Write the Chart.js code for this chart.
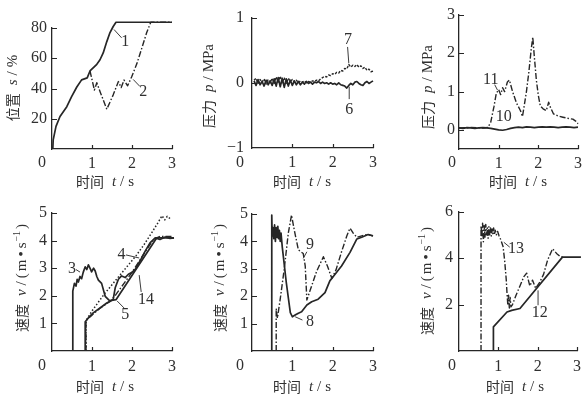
<!DOCTYPE html>
<html>
<head>
<meta charset="utf-8">
<script src="https://cdn.jsdelivr.net/npm/chart.js@4/dist/chart.umd.min.js"></script>
<style>
  html, body { margin: 0; padding: 0; background: #fff; }
  body { width: 587px; height: 396px; position: relative; overflow: hidden; }
  canvas { position: absolute; }
</style>
</head>
<body>
<canvas id="c1" width="190" height="196" style="left:0;top:0"></canvas>
<canvas id="c2" width="195" height="196" style="left:190px;top:0"></canvas>
<canvas id="c3" width="202" height="196" style="left:385px;top:0"></canvas>
<canvas id="c4" width="190" height="200" style="left:0;top:196px"></canvas>
<canvas id="c5" width="195" height="200" style="left:190px;top:196px"></canvas>
<canvas id="c6" width="202" height="200" style="left:385px;top:196px"></canvas>
<script>
// ---------- tick labels ----------
const timeTicks = [0, 1, 2, 3];
const posTicks = [20, 40, 60, 80];
const pressTicksA = [-1, 0, 1];
const pressTicksB = [0, 1, 2, 3];
const velTicksA = [1, 2, 3, 4, 5];
const velTicksB = [2, 4, 6];

// ---------- valve position s (%) ----------
const posTime1 = [0.02, 0.03, 0.10, 0.20, 0.37, 0.49, 0.62, 0.74, 0.88, 0.95, 1.12, 1.20, 1.28, 1.37, 1.45, 1.53, 1.60, 3.00];
const posCurve1 = [0, 6, 15, 21.5, 28, 34.6, 41, 45.7, 47, 51.6, 56, 59, 63.5, 71, 77, 81, 83.8, 83.8];
const posTime2 = [0.95, 1.06, 1.12, 1.20, 1.37, 1.53, 1.66, 1.73, 1.80, 1.89, 1.99, 2.12, 2.24, 2.37, 2.47, 3.00];
const posCurve2 = [51.6, 39, 43.8, 38, 26.3, 35.8, 44.6, 40.6, 45.6, 41.8, 47.6, 56.3, 66.2, 77.2, 83.8, 83.8];

// ---------- pressure p (MPa), curves 6 and 7 ----------
const pressTime = [0.05, 0.10, 0.15, 0.20, 0.25, 0.30, 0.35, 0.40, 0.45, 0.50,
                   0.55, 0.60, 0.65, 0.70, 0.75, 0.80, 0.85, 0.90, 0.95, 1.00,
                   1.05, 1.10, 1.15, 1.20, 1.25, 1.30, 1.35, 1.40, 1.45, 1.50,
                   1.55, 1.60, 1.65, 1.70, 1.75, 1.80, 1.85, 1.90, 1.95, 2.00,
                   2.05, 2.10, 2.15, 2.20, 2.25, 2.30, 2.35, 2.40, 2.45, 2.50,
                   2.55, 2.60, 2.65, 2.70, 2.75, 2.80, 2.85, 2.90, 2.95, 3.00];
const pressCurve6 = [0.03, -0.04, 0.05, -0.03, 0.02, -0.05, 0.04, -0.03, 0.03, -0.04,
                     0.06, -0.05, 0.08, -0.06, 0.07, -0.07, 0.06, -0.05, 0.04, -0.04,
                     0.03, -0.03, 0.02, -0.03, 0.01, -0.02, 0.02, -0.01, 0.01, -0.02,
                     0.01, 0.00, 0.02, -0.01, 0.01, -0.01, 0.00, -0.02, 0.00, -0.02,
                     -0.01, -0.03, 0.00, -0.03, -0.04, -0.05, -0.08, -0.04, -0.01, -0.03,
                     0.01, 0.02, -0.01, -0.03, -0.04, 0.00, 0.02, -0.01, 0.01, 0.03];
const pressCurve7 = [0.04, 0.07, -0.01, 0.05, 0.01, 0.06, -0.02, 0.05, 0.00, 0.07,
                     -0.01, 0.09, 0.01, 0.10, 0.00, 0.08, -0.01, 0.07, 0.02, 0.05,
                     0.01, 0.04, 0.00, 0.03, 0.01, 0.03, 0.00, 0.02, 0.01, 0.03,
                     0.02, 0.04, 0.03, 0.06, 0.08, 0.10, 0.09, 0.12, 0.11, 0.14,
                     0.13, 0.16, 0.15, 0.19, 0.18, 0.22, 0.21, 0.28, 0.24, 0.27,
                     0.25, 0.28, 0.24, 0.26, 0.22, 0.24, 0.19, 0.21, 0.17, 0.18];

// ---------- pressure p (MPa), curves 10 and 11 ----------
const pressTime10 = [0, 0.1, 0.2, 0.3, 0.4, 0.5, 0.6, 0.7, 0.8, 0.9, 1.0, 1.1, 1.2, 1.3, 1.4, 1.5,
                     1.6, 1.7, 1.8, 1.9, 2.0, 2.1, 2.2, 2.3, 2.4, 2.5, 2.6, 2.7, 2.8, 2.9, 3.0];
const pressCurve10 = [0.05, 0.04, 0.06, 0.05, 0.04, 0.05, 0.06, 0.05, 0.04, 0.02, 0.00, -0.01, 0.01, 0.04, 0.06, 0.07,
                      0.06, 0.08, 0.07, 0.06, 0.07, 0.08, 0.07, 0.08, 0.07, 0.06, 0.07, 0.08, 0.07, 0.06, 0.07];
const pressTime11 = [0, 0.3, 0.6, 0.73, 0.80, 0.88, 0.94, 1.00, 1.05, 1.10, 1.15, 1.22, 1.27, 1.35, 1.45, 1.55,
                     1.60, 1.64, 1.70, 1.76, 1.82, 1.86, 1.90, 1.95, 2.00, 2.05, 2.12, 2.20, 2.26, 2.30, 2.38,
                     2.50, 2.62, 2.75, 2.87, 2.95, 3.00];
const pressCurve11 = [0.05, 0.06, 0.05, 0.06, 0.20, 0.60, 0.95, 1.05, 0.92, 1.10, 1.00, 1.25, 1.30, 1.00, 0.70, 0.50,
                      0.35, 0.60, 1.00, 1.50, 2.10, 2.42, 1.90, 1.30, 0.90, 0.62, 0.55, 0.50, 0.72, 0.60, 0.42,
                      0.36, 0.33, 0.30, 0.28, 0.22, 0.16];

// ---------- velocity v (m/s), curves 3, 4, 5, 14 ----------
const velTime3 = [0.52, 0.52, 0.56, 0.60, 0.63, 0.66, 0.70, 0.74, 0.78, 0.83, 0.87, 0.91, 0.95, 0.99, 1.04, 1.08,
                  1.12, 1.16, 1.24, 1.33, 1.45, 1.53, 1.58, 1.66, 1.74, 1.83, 1.91, 1.99, 2.08, 2.20, 2.33,
                  2.45, 2.58, 2.70, 2.83, 2.95, 3.05];
const velCurve3 = [0, 2.17, 2.45, 2.35, 2.60, 2.50, 2.70, 2.62, 2.85, 3.05, 2.95, 3.12, 3.00, 2.87, 3.00, 2.90,
                   2.70, 2.57, 2.45, 1.98, 1.81, 1.87, 2.29, 2.60, 2.72, 2.66, 2.78, 2.84, 2.96, 3.26, 3.62,
                   3.92, 4.10, 4.04, 4.13, 4.08, 4.10];
const velTime4 = [0.85, 0.85, 1.00, 1.15, 1.30, 1.50, 1.70, 1.90, 2.10, 2.30, 2.50, 2.65, 2.75, 2.82, 2.88, 2.95];
const velCurve4 = [0, 1.10, 1.45, 1.75, 2.05, 2.40, 2.75, 3.10, 3.45, 3.85, 4.30, 4.65, 4.90, 4.75, 4.88, 4.80];
const velTime5 = [0.85, 0.85, 1.00, 1.20, 1.45, 1.60, 1.80, 2.00, 2.20, 2.40, 2.55, 2.70, 3.00];
const velCurve5 = [0, 1.10, 1.30, 1.55, 1.80, 2.05, 2.45, 2.85, 3.30, 3.75, 4.05, 4.15, 4.15];
const velTime14 = [0.83, 0.83, 0.91, 1.03, 1.20, 1.37, 1.49, 1.60, 2.62, 3.05];
const velCurve14 = [0, 1.06, 1.20, 1.38, 1.56, 1.74, 1.83, 1.86, 4.10, 4.10];

// ---------- velocity v (m/s), curves 8 and 9 ----------
const velTime8 = [0.49, 0.49, 0.50, 0.52, 0.54, 0.56, 0.58, 0.60, 0.62, 0.64, 0.66, 0.68, 0.70, 0.72, 0.75, 0.85,
                  0.95, 1.00, 1.08, 1.15, 1.23, 1.36, 1.48, 1.64, 1.81, 1.93, 2.06, 2.22, 2.43, 2.60, 2.72,
                  2.88, 3.00];
const velCurve8 = [0, 4.96, 4.20, 4.50, 4.10, 4.60, 4.00, 4.50, 4.15, 4.55, 4.10, 4.40, 4.00, 4.30, 3.80, 2.50,
                   1.40, 1.25, 1.32, 1.38, 1.43, 1.68, 1.80, 1.89, 2.13, 2.56, 2.80, 3.10, 3.60, 4.09, 4.15,
                   4.25, 4.20];
const velTime9 = [0.60, 0.60, 0.63, 0.70, 0.80, 0.90, 0.98, 1.05, 1.15, 1.27, 1.32, 1.36, 1.45, 1.60, 1.77, 1.87,
                  1.98, 2.08, 2.22, 2.35, 2.43, 2.51, 2.60, 2.72, 2.85, 3.00];
const velCurve9 = [0, 1.55, 1.20, 1.90, 3.00, 4.30, 4.96, 4.40, 3.69, 3.56, 3.10, 1.86, 2.25, 2.90, 3.44, 3.10,
                   2.65, 2.95, 3.62, 4.20, 4.48, 4.30, 4.15, 4.20, 4.25, 4.20];

// ---------- velocity v (m/s), curves 12 and 13 ----------
const velTime12 = [0.875, 0.875, 1.22, 1.34, 1.55, 2.63, 3.10];
const velCurve12 = [0, 1.04, 1.68, 1.75, 1.83, 4.04, 4.04];
const velTime13 = [0.56, 0.56, 0.58, 0.60, 0.62, 0.64, 0.66, 0.68, 0.70, 0.72, 0.74, 0.76, 0.78, 0.80, 0.82, 0.84,
                   0.86, 0.88, 0.90, 0.92, 0.95, 0.98, 1.02, 1.06, 1.12, 1.16, 1.20, 1.22, 1.24, 1.26, 1.28,
                   1.30, 1.32, 1.36, 1.45, 1.55, 1.65, 1.72, 1.80, 1.87, 1.95, 2.05, 2.15, 2.25, 2.38, 2.48,
                   2.58, 2.65];
const velCurve13 = [0, 5.40, 4.90, 5.50, 4.70, 5.40, 4.90, 5.45, 5.00, 5.30, 4.85, 5.35, 5.00, 5.30, 4.95, 5.25,
                    5.05, 5.30, 5.00, 5.20, 5.00, 5.15, 4.95, 4.80, 4.50, 3.90, 3.10, 2.50, 2.00, 2.40, 1.85,
                    2.30, 1.90, 2.00, 2.40, 2.80, 3.20, 3.35, 2.80, 3.05, 2.70, 2.95, 3.30, 3.90, 4.40, 4.20,
                    4.05, 4.05];

// ---------- drawing ----------
const INK = '#262626';
const TEXT = '#303030';
const SERIF = "'Liberation Serif', 'DejaVu Serif', serif";
const CJK = "'Noto Sans CJK SC', sans-serif";

const STROKES = {
  solid:   { borderDash: [], borderWidth: 1.7 },
  dashDot: { borderDash: [6, 2, 1.5, 2], borderWidth: 1.4 },
  dotted:  { borderDash: [1.5, 2], borderWidth: 1.5 },
  dashed:  { borderDash: [2.5, 1.5], borderWidth: 1.4 }
};

function curve(xs, ys, stroke) {
  return Object.assign({
    data: xs.map((x, i) => ({ x: x, y: ys[i] })),
    borderColor: INK,
    pointRadius: 0,
    tension: 0,
    fill: false,
    clip: false,
    borderJoinStyle: 'round'
  }, STROKES[stroke]);
}

const FONTS = {
  cjk: '14px ' + CJK,
  rm: '15px ' + SERIF,
  it: 'italic 15px ' + SERIF,
  sup: '10px ' + SERIF
};

const timeTitle = [{ t: '时间', f: 'cjk', gap: 8 }, { t: 't', f: 'it', gap: 4 }, { t: '/', f: 'rm', gap: 4 }, { t: 's', f: 'rm' }];
const posTitle = [{ t: '位置', f: 'cjk', gap: 8 }, { t: 's', f: 'it', gap: 4 }, { t: '/', f: 'rm', gap: 4 }, { t: '%', f: 'rm' }];
const pressTitle = [{ t: '压力', f: 'cjk', gap: 8 }, { t: 'p', f: 'it', gap: 4 }, { t: '/', f: 'rm', gap: 4 }, { t: 'MPa', f: 'rm' }];
const velTitle = [{ t: '速度', f: 'cjk', gap: 8 }, { t: 'v', f: 'it', gap: 4 }, { t: '/', f: 'rm', gap: 3 },
                  { t: '(', f: 'rm', gap: 2 }, { t: 'm', f: 'rm', gap: 3 }, { t: '•', f: 'rm', gap: 3 },
                  { t: 's', f: 'rm', gap: 1 }, { t: '−1', f: 'sup', gap: 2 }, { t: ')', f: 'rm' }];

function drawCaption(ctx, cap) {
  ctx.save();
  ctx.translate(cap.x, cap.y);
  if (cap.rotate) ctx.rotate(-Math.PI / 2);
  ctx.textAlign = 'left';
  ctx.textBaseline = 'middle';
  ctx.fillStyle = TEXT;
  let total = 0;
  const widths = cap.parts.map(p => {
    ctx.font = FONTS[p.f];
    const w = ctx.measureText(p.t).width;
    total += w + (p.gap || 0);
    return w;
  });
  let x = -total / 2;
  cap.parts.forEach((p, i) => {
    ctx.font = FONTS[p.f];
    ctx.fillText(p.t, x, p.f === 'sup' ? -5 : 0);
    x += widths[i] + (p.gap || 0);
  });
  ctx.restore();
}

// inward tick marks, curve numbers with leader lines, origin label and axis captions
const figureMarks = {
  id: 'figureMarks',
  afterDatasetsDraw(chart, args, opts) {
    const ctx = chart.ctx;
    const xs = chart.scales.x, ys = chart.scales.y;
    const area = chart.chartArea;
    ctx.save();
    ctx.strokeStyle = INK;
    ctx.lineWidth = 1.2;
    ctx.beginPath();
    xs.ticks.forEach(t => {
      if (t.value <= xs.min) return;
      const px = Math.round(xs.getPixelForValue(t.value)) + 0.5;
      ctx.moveTo(px, area.bottom);
      ctx.lineTo(px, area.bottom - 4);
    });
    ys.ticks.forEach(t => {
      if (t.value <= ys.min) return;
      const py = Math.round(ys.getPixelForValue(t.value)) + 0.5;
      ctx.moveTo(area.left, py);
      ctx.lineTo(area.left + 5, py);
    });
    ctx.stroke();

    ctx.lineWidth = 0.9;
    ctx.fillStyle = TEXT;
    ctx.font = '16px ' + SERIF;
    ctx.textAlign = 'center';
    ctx.textBaseline = 'middle';
    (opts.labels || []).forEach(l => {
      ctx.fillText(l.text, xs.getPixelForValue(l.at[0]), ys.getPixelForValue(l.at[1]));
      if (l.from) {
        ctx.beginPath();
        ctx.moveTo(xs.getPixelForValue(l.from[0]), ys.getPixelForValue(l.from[1]));
        ctx.lineTo(xs.getPixelForValue(l.to[0]), ys.getPixelForValue(l.to[1]));
        ctx.stroke();
      }
    });

    if (opts.origin) {
      ctx.font = '16px ' + SERIF;
      ctx.fillText('0', opts.origin[0], opts.origin[1]);
    }
    (opts.captions || []).forEach(c => drawCaption(ctx, c));
    ctx.restore();
  }
};

function panel(id, box, area, yRange, yTicks, yPad, xPad, datasets, marks) {
  new Chart(document.getElementById(id), {
    type: 'line',
    data: { datasets: datasets },
    options: {
      responsive: false,
      animation: false,
      devicePixelRatio: 1,
      events: [],
      layout: { padding: { left: 0, top: area.top - box.top, right: box.left + box.width - area.right, bottom: 0 } },
      plugins: { legend: { display: false }, tooltip: { enabled: false }, figureMarks: marks },
      scales: {
        x: {
          type: 'linear', min: 0, max: 3,
          afterFit: s => { s.height = box.top + box.height - area.bottom; },
          afterBuildTicks: s => { s.ticks = timeTicks.map(v => ({ value: v })); },
          ticks: {
            autoSkip: false, maxRotation: 0, padding: xPad, color: TEXT,
            font: { family: SERIF, size: 16 },
            callback: v => (v === 0 ? '' : String(v))
          },
          grid: { display: false, drawTicks: false },
          border: { display: true, color: INK, width: 1.3 }
        },
        y: {
          type: 'linear', min: yRange[0], max: yRange[1],
          afterFit: s => { s.width = area.left - box.left; },
          afterBuildTicks: s => { s.ticks = yTicks.map(v => ({ value: v })); },
          ticks: {
            autoSkip: false, padding: yPad, color: TEXT,
            font: { family: SERIF, size: 16 },
            callback: v => String(v).replace('-', '−')
          },
          grid: { display: false, drawTicks: false },
          border: { display: true, color: INK, width: 1.3 }
        }
      }
    },
    plugins: [figureMarks]
  });
}

// valve position
panel('c1', { left: 0, top: 0, width: 190, height: 196 }, { left: 52, right: 172, top: 28, bottom: 149 },
  [0, 80], posTicks, 5, 5,
  [curve(posTime1, posCurve1, 'solid'), curve(posTime2, posCurve2, 'dashDot')],
  {
    labels: [
      { text: '1', at: [1.83, 71], from: [1.55, 79], to: [1.74, 73.5] },
      { text: '2', at: [2.28, 38], from: [2.03, 46], to: [2.2, 41.3] }
    ],
    origin: [42, 163],
    captions: [
      { parts: timeTitle, x: 105, y: 182 },
      { parts: posTitle, x: 13, y: 88, rotate: true }
    ]
  });

// pressure, curves 6 and 7
panel('c2', { left: 190, top: 0, width: 195, height: 196 }, { left: 252, right: 373, top: 15, bottom: 148 },
  [-1, 1], pressTicksA, 8, 5,
  [curve(pressTime, pressCurve6, 'solid'), curve(pressTime, pressCurve7, 'dashed')],
  {
    labels: [
      { text: '7', at: [2.38, 0.66], from: [2.37, 0.55], to: [2.4, 0.3] },
      { text: '6', at: [2.41, -0.41], from: [2.41, -0.25], to: [2.41, -0.06] }
    ],
    origin: [50, 163],
    captions: [
      { parts: timeTitle, x: 112, y: 182 },
      { parts: pressTitle, x: 19, y: 86, rotate: true }
    ]
  });

// pressure, curves 10 and 11
panel('c3', { left: 385, top: 0, width: 202, height: 196 }, { left: 459, right: 579, top: 15, bottom: 149 },
  [-0.5, 3], pressTicksB, 4, 5,
  [curve(pressTime10, pressCurve10, 'solid'), curve(pressTime11, pressCurve11, 'dashDot')],
  {
    labels: [
      { text: '11', at: [0.8, 1.31], from: [0.9, 1.18], to: [0.97, 1.04] },
      { text: '10', at: [1.13, 0.35] }
    ],
    origin: [67, 163],
    captions: [
      { parts: timeTitle, x: 133, y: 182 },
      { parts: pressTitle, x: 43, y: 87, rotate: true }
    ]
  });

// velocity, curves 3, 4, 5, 14
panel('c4', { left: 0, top: 196, width: 190, height: 200 }, { left: 52, right: 172, top: 213, bottom: 351 },
  [0, 5], velTicksA, 5, 6,
  [curve(velTime14, velCurve14, 'solid'), curve(velTime5, velCurve5, 'dashDot'),
   curve(velTime4, velCurve4, 'dotted'), curve(velTime3, velCurve3, 'solid')],
  {
    labels: [
      { text: '3', at: [0.5, 2.97], from: [0.6, 2.95], to: [0.7, 2.86] },
      { text: '4', at: [1.74, 3.48], from: [1.85, 3.48], to: [2.18, 3.37] },
      { text: '5', at: [1.83, 1.3], from: [1.8, 1.56], to: [1.63, 1.81] },
      { text: '14', at: [2.35, 1.85], from: [2.23, 2.14], to: [2.18, 2.75] }
    ],
    origin: [42, 170],
    captions: [
      { parts: timeTitle, x: 105, y: 191 },
      { parts: velTitle, x: 22, y: 82, rotate: true }
    ]
  });

// velocity, curves 8 and 9
panel('c5', { left: 190, top: 196, width: 195, height: 200 }, { left: 252, right: 373, top: 214, bottom: 351 },
  [0, 5], velTicksA, 4, 6,
  [curve(velTime8, velCurve8, 'solid'), curve(velTime9, velCurve9, 'dashDot')],
  {
    labels: [
      { text: '9', at: [1.44, 3.87], from: [1.36, 3.62], to: [1.27, 3.38] },
      { text: '8', at: [1.44, 1.07], from: [1.25, 1.13], to: [1.07, 1.25] }
    ],
    origin: [50, 170],
    captions: [
      { parts: timeTitle, x: 112, y: 191 },
      { parts: velTitle, x: 30, y: 82, rotate: true }
    ]
  });

// velocity, curves 12 and 13
panel('c6', { left: 385, top: 196, width: 202, height: 200 }, { left: 459, right: 580, top: 211, bottom: 351 },
  [0, 6], velTicksB, 6, 6,
  [curve(velTime12, velCurve12, 'solid'), curve(velTime13, velCurve13, 'dashDot')],
  {
    labels: [
      { text: '13', at: [1.45, 4.4], from: [1.29, 4.47], to: [1.14, 4.68] },
      { text: '12', at: [2.05, 1.63], from: [2.01, 1.97], to: [2.01, 2.61] }
    ],
    origin: [67, 170],
    captions: [
      { parts: timeTitle, x: 130, y: 191 },
      { parts: velTitle, x: 42, y: 85, rotate: true }
    ]
  });
</script>
</body>
</html>
